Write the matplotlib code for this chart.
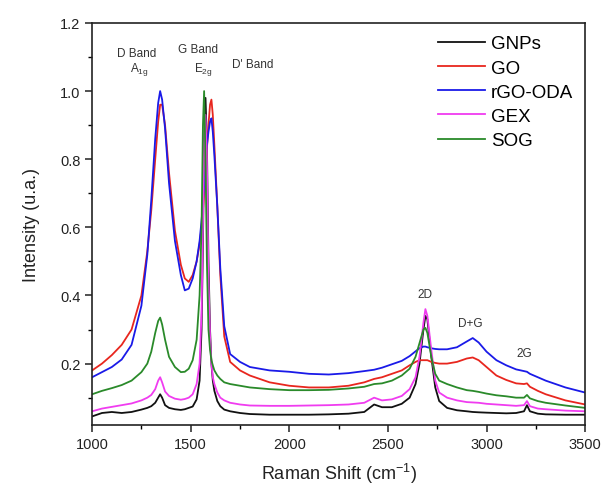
import matplotlib
matplotlib.use("Agg")
import matplotlib.pyplot as plt
from matplotlib.ticker import MultipleLocator

plt.rcParams['font.family'] = ['Liberation Sans', 'DejaVu Sans']
plt.rcParams['mathtext.default'] = 'regular'

# Raman shift grid (cm-1) and intensities
raman_shift = [1000, 1050, 1100, 1150, 1200, 1250, 1280, 1300, 1320, 1335,
               1345, 1355, 1370, 1390, 1420, 1450, 1470, 1490, 1510, 1530,
               1545, 1555, 1562, 1568, 1575, 1582, 1590, 1598, 1605, 1612,
               1620, 1635, 1650, 1670, 1700, 1750, 1800, 1900, 2000, 2100,
               2200, 2300, 2380, 2430, 2470, 2520, 2570, 2610, 2640, 2660,
               2680, 2690, 2700, 2720, 2740, 2760, 2800, 2850, 2900, 2930,
               2960, 3000, 3050, 3100, 3150, 3190, 3205, 3220, 3260, 3300,
               3400, 3500]

gnps = [0.045, 0.055, 0.058, 0.055, 0.058, 0.065, 0.070, 0.075, 0.085, 0.100,
        0.110, 0.100, 0.078, 0.070, 0.066, 0.064, 0.066, 0.070, 0.074, 0.095,
        0.150, 0.300, 0.550, 0.850, 0.980, 0.850, 0.500, 0.300, 0.200, 0.150,
        0.120, 0.090, 0.075, 0.065, 0.060, 0.055, 0.052, 0.050, 0.050, 0.050,
        0.051, 0.053, 0.058, 0.080, 0.072, 0.072, 0.082, 0.100, 0.140, 0.200,
        0.300, 0.340, 0.330, 0.220, 0.130, 0.090, 0.070, 0.063, 0.060, 0.058,
        0.057, 0.056, 0.055, 0.054, 0.055, 0.060, 0.078, 0.060, 0.053, 0.051,
        0.050, 0.050]

go = [0.180, 0.200, 0.225, 0.255, 0.300, 0.400, 0.530, 0.650, 0.800, 0.910,
      0.960, 0.960, 0.900, 0.760, 0.590, 0.490, 0.450, 0.440, 0.460, 0.500,
      0.550, 0.600, 0.650, 0.700, 0.760, 0.830, 0.900, 0.960, 0.975, 0.930,
      0.840, 0.660, 0.460, 0.280, 0.205, 0.180, 0.165, 0.145, 0.135, 0.130,
      0.130, 0.135, 0.145, 0.155, 0.160, 0.170, 0.180, 0.195, 0.205, 0.210,
      0.210, 0.210, 0.210, 0.205, 0.202, 0.200, 0.200, 0.205, 0.215, 0.218,
      0.210, 0.190, 0.165, 0.152, 0.142, 0.140, 0.142, 0.132, 0.120, 0.110,
      0.092, 0.080]

rgo_oda = [0.160, 0.175, 0.190, 0.212, 0.255, 0.370, 0.520, 0.680, 0.860, 0.965,
           1.000, 0.975, 0.890, 0.730, 0.560, 0.460, 0.415, 0.420, 0.450, 0.500,
           0.560, 0.620, 0.670, 0.720, 0.780, 0.840, 0.880, 0.910, 0.920, 0.880,
           0.810, 0.660, 0.480, 0.310, 0.228, 0.205, 0.190, 0.180, 0.176, 0.170,
           0.168, 0.172, 0.178, 0.182, 0.188, 0.198, 0.208, 0.222, 0.236, 0.245,
           0.250, 0.250, 0.248, 0.245, 0.243, 0.242, 0.242, 0.248, 0.265, 0.275,
           0.262, 0.235, 0.210, 0.195, 0.183, 0.178, 0.176, 0.170, 0.160, 0.150,
           0.130, 0.115]

gex = [0.060, 0.068, 0.073, 0.078, 0.083, 0.092, 0.100, 0.108, 0.125, 0.150,
       0.160, 0.145, 0.118, 0.105, 0.097, 0.094, 0.096, 0.100, 0.110, 0.140,
       0.200, 0.350, 0.600, 0.850, 0.930, 0.800, 0.450, 0.280, 0.200, 0.160,
       0.140, 0.115, 0.100, 0.092, 0.085, 0.080, 0.077, 0.076, 0.076, 0.077,
       0.078, 0.080, 0.085, 0.100, 0.092, 0.095, 0.105, 0.125, 0.160, 0.220,
       0.320, 0.360, 0.340, 0.240, 0.150, 0.115, 0.100, 0.092, 0.087, 0.086,
       0.085, 0.082, 0.080, 0.078, 0.076, 0.078, 0.090, 0.075, 0.068, 0.066,
       0.062, 0.060]

sog = [0.110, 0.120, 0.128, 0.137, 0.150, 0.175, 0.200, 0.235, 0.290, 0.325,
       0.335, 0.315, 0.270, 0.220, 0.190, 0.175, 0.176, 0.185, 0.210, 0.270,
       0.400, 0.600, 0.900, 1.000, 0.800, 0.500, 0.300, 0.240, 0.210, 0.195,
       0.180, 0.165, 0.155, 0.145, 0.140, 0.135, 0.130, 0.125, 0.122, 0.122,
       0.123, 0.127, 0.132, 0.140, 0.142, 0.150, 0.165, 0.185, 0.220, 0.260,
       0.300, 0.305, 0.290, 0.220, 0.170, 0.150, 0.140, 0.130, 0.122, 0.120,
       0.117, 0.112, 0.107, 0.104, 0.100, 0.100, 0.108, 0.098, 0.090, 0.085,
       0.077, 0.070]

series = [("GNPs", gnps, "#111111"),
          ("GO", go, "#e8261e"),
          ("rGO-ODA", rgo_oda, "#1a1ae8"),
          ("GEX", gex, "#f03cf0"),
          ("SOG", sog, "#2a8a2a")]

fig = plt.figure(figsize=(6.02, 4.89), dpi=100)
ax = fig.add_axes([0.153, 0.129, 0.819, 0.822])

for name, vals, col in series:
    ax.plot(raman_shift, vals, color=col, lw=1.3, label=name)

ax.set_xlim(1000, 3500)
ax.set_ylim(0.02, 1.2)
ax.xaxis.set_major_locator(MultipleLocator(500))
ax.xaxis.set_minor_locator(MultipleLocator(250))
ax.yaxis.set_major_locator(MultipleLocator(0.2))
ax.yaxis.set_minor_locator(MultipleLocator(0.1))
ax.yaxis.set_major_formatter(plt.FormatStrFormatter('%.1f'))
ax.tick_params(which='major', direction='out', length=5, width=1.1,
               labelsize=10.5, colors='#222222', top=False, right=False)
ax.tick_params(which='minor', direction='out', length=3, width=1.0,
               top=False, right=False)
for sp in ax.spines.values():
    sp.set_linewidth(1.2)
    sp.set_color('#222222')

ax.set_xlabel(r'Raman Shift (cm$^{-1}$)', fontsize=13, color='#222222', labelpad=7)
ax.set_ylabel('Intensity (u.a.)', fontsize=13, color='#222222', labelpad=14)

# band labels
ann = dict(fontsize=8.5, color='#333333', ha='center', va='center')
ax.text(1228, 1.112, 'D Band', **ann)
ax.text(1238, 1.065, r'A$_{1g}$', **ann)
ax.text(1537, 1.124, 'G Band', **ann)
ax.text(1563, 1.065, r'E$_{2g}$', **ann)
ax.text(1816, 1.08, "D' Band", **ann)
ax.text(2689, 0.403, '2D', **ann)
ax.text(2917, 0.32, 'D+G', **ann)
ax.text(3190, 0.232, '2G', **ann)

ax.legend(loc='upper right', frameon=False, fontsize=13.5, handlelength=2.5,
          handletextpad=0.3, labelspacing=0.38, borderaxespad=0.4,
          borderpad=0.25)

fig.savefig('out.png', dpi=100)
